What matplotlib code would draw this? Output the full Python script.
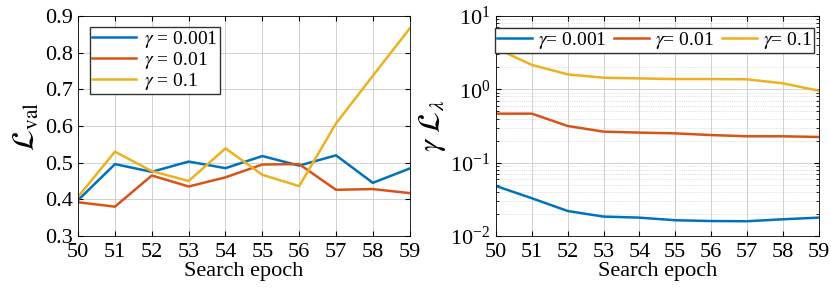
import numpy as np
import matplotlib.pyplot as plt

# data
epochs = np.arange(50, 60)
gammas = ["0.001", "0.01", "0.1"]
colors = ["#0072BD", "#D95319", "#EDB120"]

val_001 = [0.398, 0.496, 0.475, 0.503, 0.485, 0.518, 0.492, 0.520, 0.445, 0.484]
val_01 = [0.392, 0.380, 0.465, 0.435, 0.460, 0.495, 0.496, 0.426, 0.428, 0.417]
val_1 = [0.407, 0.530, 0.477, 0.450, 0.539, 0.467, 0.436, 0.607, 0.737, 0.866]

reg_001 = [0.048, 0.0327, 0.0219, 0.0184, 0.0178, 0.0164, 0.0160, 0.0159, 0.0169, 0.0178]
reg_01 = [0.466, 0.466, 0.316, 0.265, 0.257, 0.251, 0.238, 0.229, 0.229, 0.224]
reg_1 = [3.62, 2.15, 1.60, 1.44, 1.41, 1.38, 1.38, 1.37, 1.21, 0.96]

plt.rcParams.update({
    "font.family": "serif",
    "font.serif": ["Liberation Serif"],
    "mathtext.fontset": "stix",
    "font.size": 16,
    "xtick.direction": "in", "ytick.direction": "in",
    "xtick.top": True, "ytick.right": True,
    "xtick.major.pad": 5, "ytick.major.pad": 4,
    "axes.linewidth": 0.6,
})

fig = plt.figure(figsize=(8.31, 2.91), dpi=100)
ax1 = fig.add_axes([0.094, 0.189, 0.399, 0.756])
ax2 = fig.add_axes([0.597, 0.189, 0.388, 0.756])

# --- left panel: validation loss ---
for y, c, g in zip([val_001, val_01, val_1], colors, gammas):
    ax1.plot(epochs, y, color=c, lw=1.8, label=r"$\gamma$ = " + g)
ax1.set_xlim(50, 59)
ax1.set_ylim(0.3, 0.9)
ax1.set_xticks(epochs)
ax1.set_yticks(np.arange(0.3, 0.91, 0.1))
ax1.grid(True, color="#d0d0d0", lw=0.7)
ax1.set_xlabel("Search epoch", labelpad=0)
ax1.set_ylabel(r"$\mathcal{L}_{\mathrm{val}}$", fontsize=22, labelpad=2)
ax1.legend(loc="upper left", bbox_to_anchor=(0.035, 0.95), fancybox=False,
           edgecolor="#333333", framealpha=1, fontsize=14, handlelength=2.3,
           borderpad=0.1, labelspacing=0.0, handletextpad=0.4, borderaxespad=0)

# --- right panel: regularisation term ---
for y, c, g in zip([reg_001, reg_01, reg_1], colors, gammas):
    ax2.plot(epochs, y, color=c, lw=1.8, label=r"$\gamma$= " + g)
ax2.set_yscale("log")
ax2.set_xlim(50, 59)
ax2.set_ylim(1e-2, 1e1)
ax2.set_xticks(epochs)
ax2.grid(True, which="major", color="#d0d0d0", lw=0.7)
ax2.grid(True, which="minor", axis="y", color="#c8c8c8", lw=0.5, ls=":")
ax2.set_xlabel("Search epoch", labelpad=0)
ax2.set_ylabel(r"$\gamma\ \mathcal{L}_{\lambda}$", fontsize=22, labelpad=2)
ax2.legend(loc="upper right", bbox_to_anchor=(0.985, 0.945), ncol=3, fancybox=False,
           edgecolor="#333333", framealpha=1, fontsize=14, handlelength=1.8,
           borderpad=0.1, columnspacing=0.4, handletextpad=0.3, borderaxespad=0)

fig.savefig("out.png", dpi=100)
